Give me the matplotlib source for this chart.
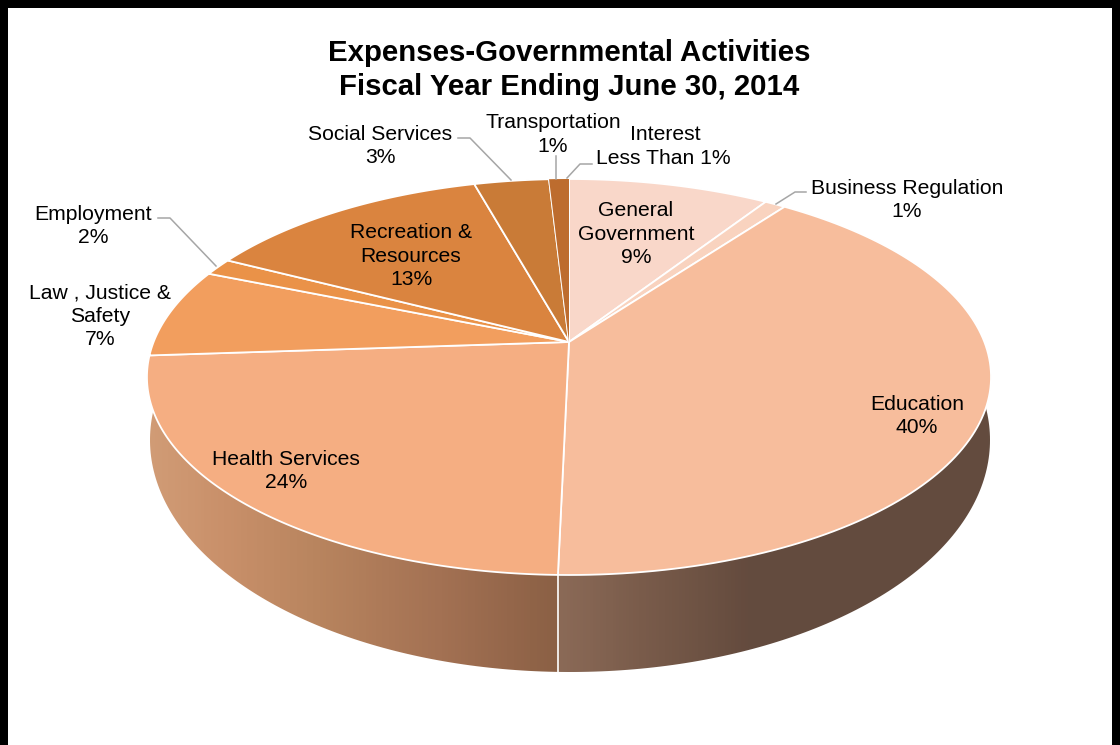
import numpy as np
import matplotlib
matplotlib.use('Agg')
import matplotlib.pyplot as plt
from matplotlib.colors import LinearSegmentedColormap
from matplotlib.patches import Polygon, Rectangle

plt.rcParams['font.family'] = ['Liberation Sans', 'DejaVu Sans']

# Slices clockwise from 12 o'clock, shares as measured on the picture
categories = ['General Government', 'Business Regulation', 'Education', 'Health Services',
              'Law, Justice & Safety', 'Employment', 'Recreation & Resources',
              'Social Services', 'Transportation', 'Interest']
shares = [9.15, 0.95, 40.25, 23.55, 7.3, 1.4, 13.1, 3.4, 0.55, 0.35]
colors = ['#f9d7c9', '#f9d3bf', '#f7bd9c', '#f5ae82', '#f29e5e', '#ea9248',
          '#da843f', '#c97b37', '#bd6c2e', '#bd6c2e']

# Text of the labels and where each one sits
label_texts = ['General\nGovernment\n9%', 'Business Regulation\n1%', 'Education\n40%',
               'Health Services\n24%', 'Law , Justice &\nSafety\n7%', 'Employment\n2%',
               'Recreation &\nResources\n13%', 'Social Services\n3%', 'Transportation', '1%',
               'Interest', 'Less Than 1%']
label_x = [636, 907, 917, 286, 100, 93, 411, 380, 553, 553, 665, 663]
label_y = [234, 200, 416, 471, 316, 226, 256, 146, 122, 146, 135, 159]

# Grey leader lines
leaders = [[(458, 138), (470, 138), (511, 180)],
           [(556, 156), (556, 179)],
           [(592, 164), (580, 164), (567, 178)],
           [(806, 192), (795, 192), (776, 204)],
           [(158, 218), (170, 218), (216, 266)]]

# Side wall colours, left to right
wall_x = [148, 223, 312, 440, 556, 560, 640, 750, 992]
wall_colors = ['#d19c76', '#c9906a', '#b9855f', '#a37153', '#8b6045',
               '#8b6a57', '#7a5c4b', '#644b3e', '#634c3f']

# Top of the pie: circle seen in perspective, apex above the ellipse centre
CX, CY = 569, 342
A, B, K = 415.4, 191.8, 0.1768


def project(theta):
    u, v = np.sin(theta), np.cos(theta)
    d = 1 + K * v
    return CX + A * u / d, CY - B * v / d


fig, ax = plt.subplots(figsize=(11.2, 7.45), dpi=100)
ax.set_position([0, 0, 1, 1])
ax.axis('off')

# Side wall: gradient clipped to the lower ellipse
t = np.linspace(0, 2 * np.pi, 400)
lx, ly = 570 + 420 * np.cos(t), 440 + 232 * np.sin(t)
keep = ly >= 407
order = np.argsort(np.arctan2(ly[keep] - 407, lx[keep] - 570))
clip = Polygon(np.column_stack([lx[keep][order], ly[keep][order]]), closed=True,
               transform=ax.transData, fc='none', ec='none')
ax.add_patch(clip)
stops = [(x - wall_x[0]) / (wall_x[-1] - wall_x[0]) for x in wall_x]
cmap = LinearSegmentedColormap.from_list('wall', list(zip(stops, wall_colors)))
img = ax.imshow(np.linspace(0, 1, 844).reshape(1, -1), cmap=cmap, aspect='auto',
                extent=(wall_x[0], wall_x[-1], 680, 400), interpolation='bilinear')
img.set_clip_path(clip)

# Slices
edges = np.cumsum([0] + shares) / sum(shares) * 2 * np.pi
for i in range(len(shares)):
    th = np.linspace(edges[i], edges[i + 1], 120)
    x, y = project(th)
    ax.fill(np.r_[CX, x], np.r_[CY, y], facecolor=colors[i], edgecolor='white',
            linewidth=1.3, joinstyle='round', zorder=3)
# Transportation and Interest share a colour and show no seam
th = np.linspace(edges[8], edges[10], 10)
x, y = project(th)
ax.fill(np.r_[CX, x], np.r_[CY, y], facecolor=colors[8], edgecolor='none', zorder=3.1)

# Seam on the wall under the end of Education
sx, sy = project(edges[3])
ax.plot([sx, sx], [sy, 672], color='white', lw=1.2, zorder=2.5)

for pts in leaders:
    px, py = zip(*pts)
    ax.plot(px, py, color='#a6a6a6', lw=1.1, zorder=4)

for txt, x, y in zip(label_texts, label_x, label_y):
    ax.text(x, y, txt, ha='center', va='center', fontsize=15.2, color='black',
            linespacing=1.27, zorder=5)

ax.text(569, 70, 'Expenses-Governmental Activities\nFiscal Year Ending June 30, 2014',
        ha='center', va='center', fontsize=21.2, fontweight='bold', color='black',
        linespacing=1.25, zorder=5)

# Black frame, open at the bottom
for r in [(0, 0, 8, 745), (0, 0, 1120, 8), (1112, 0, 8, 745)]:
    ax.add_patch(Rectangle(r[:2], r[2], r[3], fc='black', ec='none', zorder=6))

ax.set_xlim(0, 1120)
ax.set_ylim(745, 0)
fig.savefig('out.png', dpi=100, facecolor='white')
